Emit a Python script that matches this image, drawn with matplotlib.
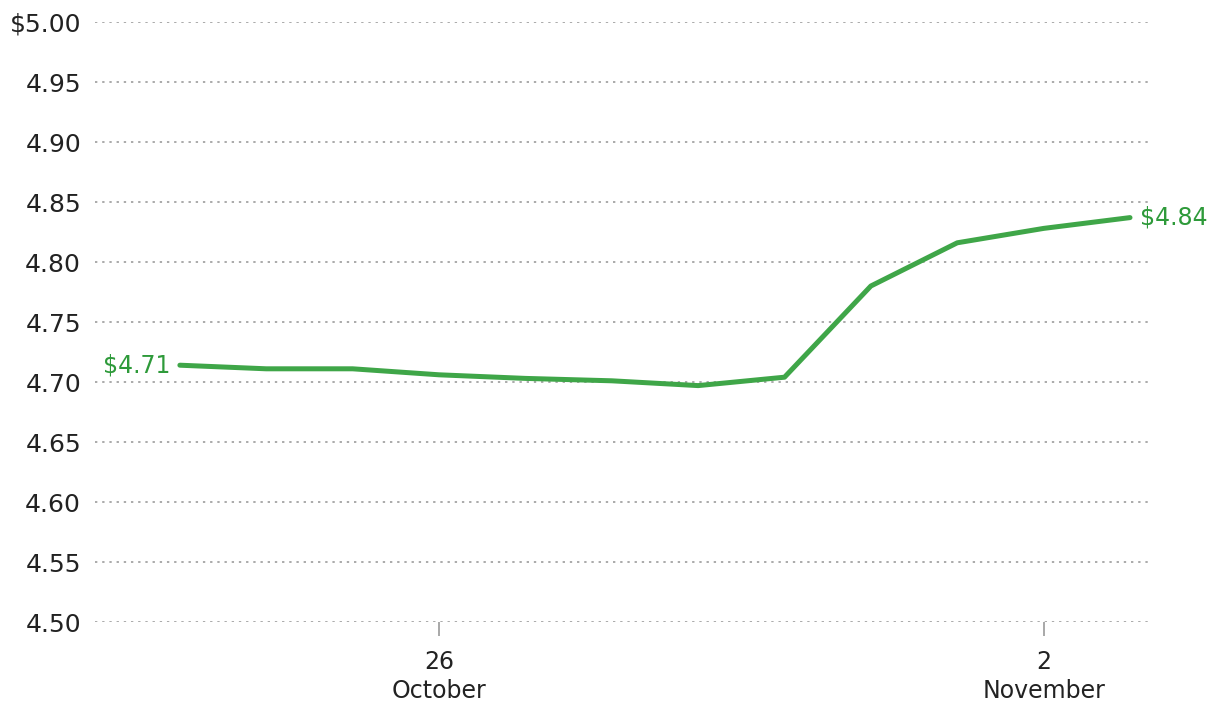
import numpy as np
import matplotlib
matplotlib.use("Agg")
import matplotlib.pyplot as plt
import datetime as dt

# Daily values, Oct 23 - Nov 3
dates = [dt.datetime(2023, 10, 23) + dt.timedelta(days=i) for i in range(12)]
prices = [4.714, 4.711, 4.711, 4.706, 4.703, 4.701, 4.697, 4.704, 4.780, 4.816, 4.828, 4.837]
yticks = [4.50, 4.55, 4.60, 4.65, 4.70, 4.75, 4.80, 4.85, 4.90, 4.95, 5.00]
xticks = [dt.datetime(2023, 10, 26), dt.datetime(2023, 11, 2)]
xlabels = ["26\nOctober", "2\nNovember"]

lineColor = "#3fa648"
textColor = "#2e9a3a"
gridColor = "#aaaaaa"

fig = plt.figure(figsize=(12.2, 7.18), dpi=100)
ax = fig.add_axes([95 / 1220, 1 - 622 / 718, (1148 - 95) / 1220, 600 / 718])

ax.plot(dates, prices, color=lineColor, linewidth=3.6, solid_capstyle="round", zorder=3)

ax.set_ylim(4.50, 5.00)
ax.set_xlim(dt.datetime(2023, 10, 22, 0, 25), dt.datetime(2023, 11, 3, 5, 0))

ax.set_yticks(yticks)
ax.set_yticklabels(["$5.00" if v == 5.0 else f"{v:.2f}" for v in yticks],
                   fontsize=18, color="#222222")
ax.set_xticks(xticks)
ax.set_xticklabels(xlabels, fontsize=17, color="#222222", linespacing=1.3)

ax.tick_params(axis="y", length=0, pad=10)
ax.tick_params(axis="x", length=10, width=1.2, color="#999999", pad=10)

ax.grid(axis="y", color=gridColor, linestyle=(0, (1.2, 2.5)), linewidth=1.4)
for s in ax.spines.values():
    s.set_visible(False)

# End labels
ax.annotate(f"${prices[0]:.2f}", (dates[0], prices[0]), xytext=(-7, 0), textcoords="offset points",
            ha="right", va="center", color=textColor, fontsize=17)
ax.annotate(f"${prices[-1]:.2f}", (dates[-1], prices[-1]), xytext=(7, 0), textcoords="offset points",
            ha="left", va="center", color=textColor, fontsize=17)

fig.savefig("out.png", dpi=100, facecolor="white")
